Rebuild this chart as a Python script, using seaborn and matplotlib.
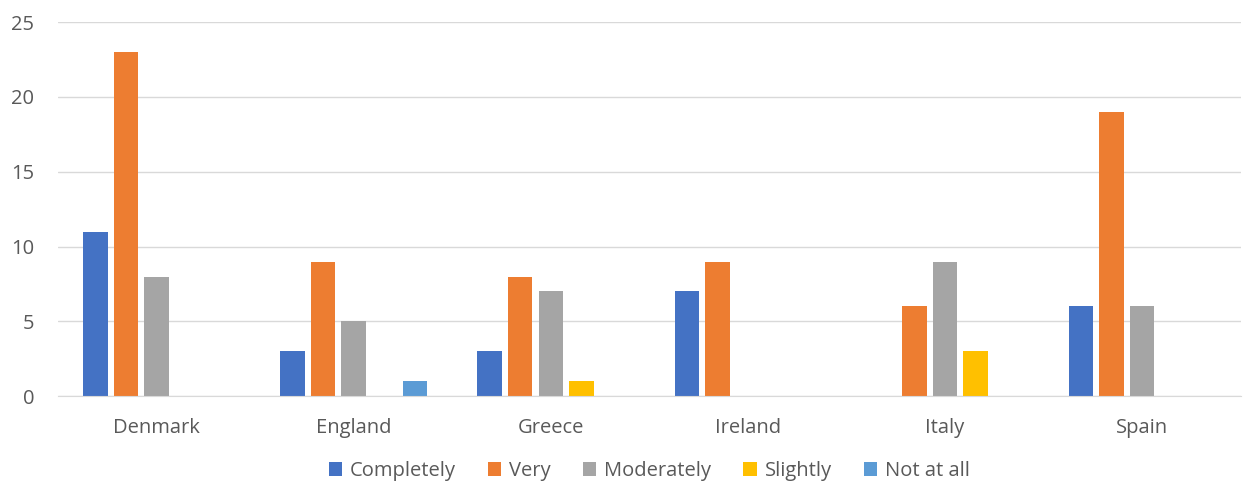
import matplotlib
matplotlib.use("Agg")
import matplotlib.pyplot as plt
import pandas as pd
import seaborn as sns

countries = ["Denmark", "England", "Greece", "Ireland", "Italy", "Spain"]
levels = ["Completely", "Very", "Moderately", "Slightly", "Not at all"]
completely = [11, 3, 3, 7, 0, 6]
very = [23, 9, 8, 9, 6, 19]
moderately = [8, 5, 7, 0, 9, 6]
slightly = [0, 0, 1, 0, 3, 0]
not_at_all = [0, 1, 0, 0, 0, 0]
colours = ["#4472C4", "#ED7D31", "#A5A5A5", "#FFC000", "#5B9BD5"]

rows = []
for level, values in zip(levels, [completely, very, moderately, slightly, not_at_all]):
    for country, v in zip(countries, values):
        rows.append([country, level, v])
df = pd.DataFrame(rows, columns=["country", "level", "count"])

sns.set_style("white")
plt.rcParams["font.family"] = ["Open Sans", "DejaVu Sans"]
text_col = "#595959"

fig = plt.figure(figsize=(12.45, 4.82), dpi=100)
ax = fig.add_axes([0.0466, 0.178, 0.95, 0.776])
sns.barplot(data=df, x="country", y="count", hue="level", order=countries,
            hue_order=levels, palette=colours, width=0.775, gap=0.2,
            saturation=1, linewidth=0, ax=ax)

ax.set_ylim(0, 25)
ax.set_yticks([0, 5, 10, 15, 20, 25])
ax.yaxis.grid(True, color="#D9D9D9", linewidth=1)
ax.set_axisbelow(True)
for s in ["top", "right", "left"]:
    ax.spines[s].set_visible(False)
ax.spines["bottom"].set_color("#D9D9D9")
ax.tick_params(axis="both", length=0, labelsize=14.5, colors=text_col)
ax.tick_params(axis="x", pad=16)
ax.tick_params(axis="y", pad=17)
ax.set_xlabel("")
ax.set_ylabel("")

handles, labels = ax.get_legend_handles_labels()
ax.legend(handles, labels, loc="upper center", bbox_to_anchor=(0.5, -0.125),
          ncol=5, frameon=False, fontsize=14.5, handlelength=0.65,
          handleheight=0.65, handletextpad=0.4, columnspacing=1.6,
          labelcolor=text_col)

fig.savefig("out.png", dpi=100)
